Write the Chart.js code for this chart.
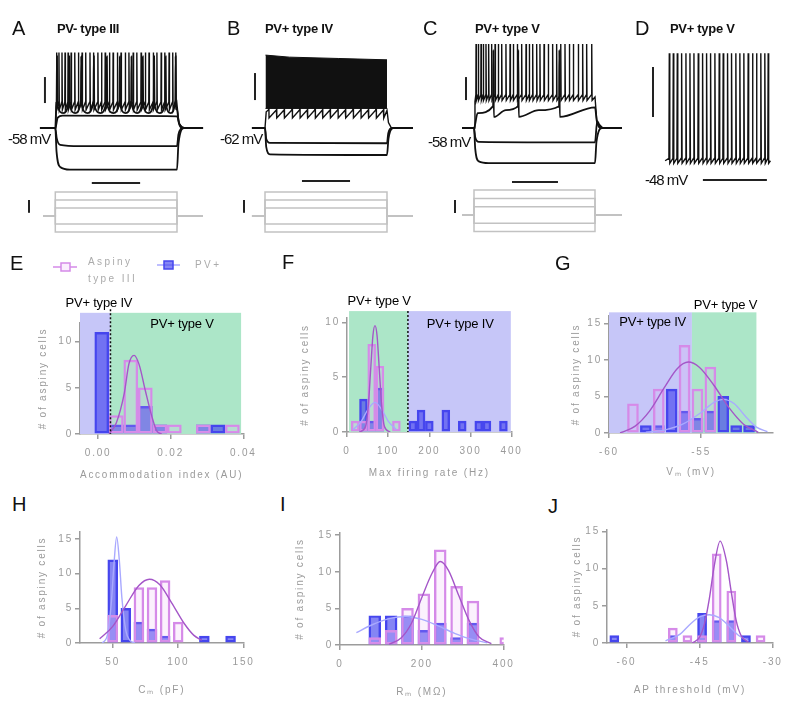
<!DOCTYPE html>
<html>
<head>
<meta charset="utf-8">
<title>Aspiny cell types</title>
<script src="https://cdn.jsdelivr.net/npm/chart.js@4.4.1/dist/chart.umd.min.js"></script>
<style>
  body { margin: 0; background: #fff; }
  #fig { position: relative; width: 800px; height: 717px; overflow: hidden; font-family: 'Liberation Sans', Arial, sans-serif; }
  #fig canvas { position: absolute; }
  .lbl { position: absolute; white-space: nowrap; line-height: 1; color: #111; }
</style>
</head>
<body>
<div id="fig"></div>
<script>
// ---- top row: step protocol + spike times (ms, mV, pA) ----
const stepSpan = [0, 1000];
const currentSteps = [300, 200, 100, -100, -200];

const spikesA3 = [10, 30, 55, 80, 105, 130, 160, 190, 220, 250, 285, 315, 350, 380, 410, 445, 475, 510, 540, 575, 605, 640, 670, 705, 740, 770, 805, 835, 870, 900, 935, 965, 990];
const spikesA2 = [14, 115, 213, 317, 424, 530, 626, 719, 812, 907, 989];
const depA1 = [[-126, -58], [0, -58], [20, -50], [60, -48.5], [1000, -49], [1020, -55], [1060, -58], [1214, -58]];
const hypA1 = [[-126, -58], [0, -58], [12, -66], [40, -71], [200, -72], [1000, -72], [1012, -63], [1050, -58], [1214, -58]];
const hypA2 = [[-126, -58], [0, -58], [10, -76], [40, -88], [120, -90], [1000, -90], [1012, -70], [1060, -58], [1214, -58]];

const spikesB2 = [30, 95, 158, 222, 285, 348, 410, 472, 535, 597, 660, 722, 785, 848, 910, 972];
const bandTopB = [[4, -8], [200, -9.5], [600, -10.5], [1000, -11.5]];
const bandBotB = [[4, -47.5], [1000, -47.5]];
const hypB1 = [[-107, -62], [0, -62], [10, -70], [40, -73], [1000, -73.3], [1010, -66], [1040, -62], [1213, -62]];
const hypB2 = [[-107, -62], [0, -62], [10, -76], [40, -81.5], [1000, -82], [1012, -70], [1050, -62], [1213, -62]];

const spikesC3 = [17, 36, 58, 77, 99, 121, 146, 174, 201, 229, 264, 298, 325, 358, 394, 430, 457, 485, 518, 545, 579, 614, 650, 683, 717, 752, 788, 821, 862, 898, 931, 973];
const spikesC2 = [160, 366, 705];
const hypC1 = [[-99, -58], [0, -58], [10, -66], [40, -70], [1000, -70.5], [1018, -52], [1035, -55], [1070, -58], [1223, -58]];
const hypC2 = [[-99, -58], [0, -58], [10, -76], [40, -87], [120, -88.5], [1000, -88.5], [1012, -70], [1060, -58], [1223, -58]];

const spikesD = [0, 12.5, 25, 38.5, 52, 64.5, 77, 90.5, 104, 116.5, 129, 142.5, 156, 168.5, 182, 194.5, 208, 220.5, 233, 246.5, 260, 272.5, 286, 298.5, 309];

// scale bars (data units of each panel)
const vBarA = [[-85, -38.8], [-85, -18.8]], tBarA = [[300, -100.3], [697, -100.3]], iBarA = [[-216, 40], [-216, 200]];
const vBarB = [[-82, -41.3], [-82, -21.3]], tBarB = [[303, -101.3], [697, -101.3]], iBarB = [[-172, 40], [-172, 200]];
const vBarC = [[-66, -33.7], [-66, -13.7]], tBarC = [[314, -105], [694, -105]], iBarC = [[-157, 24], [-157, 181]];
const vBarD = [[-51, -12], [-51, 28]], tBarD = [[105, -62.4], [305, -62.4]];

// ---- histograms: bin centres and cell counts ----
const binsE = [0.001, 0.005, 0.009, 0.013, 0.017, 0.021, 0.025, 0.029, 0.033, 0.037];
const aspinyE = [0, 2, 8, 5, 1, 1, 0, 1, 0, 1];
const pvE = [11, 1, 1, 3, 1, 0, 0, 1, 1, 0];
const fitAspinyEx = [0.0030, 0.0050, 0.0072, 0.0085, 0.0099, 0.0113, 0.0130, 0.0148, 0.0162, 0.0175];
const fitAspinyEy = [0, 1.2, 4.4, 7.6, 8.5, 7.5, 4.7, 1.9, 0.3, 0];

const binsF = [20, 40, 60, 80, 100, 120, 140, 160, 180, 200, 220, 240, 260, 280, 300, 320, 340, 360, 380];
const aspinyF = [1, 1, 8, 6, 0, 1, 0, 0, 0, 0, 0, 0, 0, 0, 0, 0, 0, 0, 0];
const pvF = [0, 3, 1, 4, 0, 0, 0, 1, 2, 1, 0, 2, 0, 1, 0, 1, 1, 0, 1];
const fitAspinyFx = [30, 45, 52, 58, 63, 68, 73, 78, 84, 91, 105];
const fitAspinyFy = [0, 0.5, 2.5, 6, 8.8, 9.7, 8.8, 6, 2.5, 0.5, 0];
const fitPvFx = [15, 35, 50, 68, 85, 100, 120];
const fitPvFy = [0.2, 1, 2, 2.7, 2, 1, 0.2];

const binsG = [-58.7, -58.0, -57.3, -56.6, -55.9, -55.2, -54.5, -53.8, -53.1, -52.4];
const aspinyG = [4, 0, 6, 0, 12, 6, 9, 0, 0, 0];
const pvG = [0, 1, 1, 6, 3, 2, 3, 5, 1, 1];
const fitAspinyGx = [-59.4, -58.6, -57.8, -57, -56.3, -55.7, -55.1, -54.3, -53.5, -52.7, -51.9];
const fitAspinyGy = [0, 0.9, 3, 6.2, 8.8, 9.7, 9, 6.5, 3.5, 1.2, 0.1];
const fitPvGx = [-58, -57, -56, -55, -54.3, -53.8, -53.2, -52.6, -52, -51.4];
const fitPvGy = [0.1, 0.4, 1.2, 2.8, 4.2, 4.6, 4, 2.3, 0.8, 0.2];

const binsH = [50, 60, 70, 80, 90, 100, 110, 120, 130, 140];
const aspinyH = [4, 0, 8, 8, 9, 3, 0, 0, 0, 0];
const pvH = [12, 5, 3, 2, 1, 0, 0, 1, 0, 1];
const fitAspinyHx = [40, 50, 60, 70, 78, 86, 95, 105, 112, 118];
const fitAspinyHy = [0.6, 2.4, 5.4, 8.3, 9.2, 8.4, 5.8, 2.7, 1.1, 0.4];
const fitPvHx = [42, 46, 49, 51, 53, 55, 57, 60, 63, 67];
const fitPvHy = [0, 1.2, 6, 11.5, 15.3, 12, 6.5, 1.8, 0.4, 0];

const binsI = [85, 125, 165, 205, 245, 285, 325, 365, 405];
const aspinyI = [1, 2, 5, 7, 13, 8, 6, 0, 1];
const pvI = [4, 4, 4, 2, 3, 1, 3, 0, 0];
const fitAspinyIx = [120, 150, 175, 200, 225, 245, 265, 290, 315, 340, 370];
const fitAspinyIy = [0.1, 1, 3, 6.5, 9.8, 11.4, 10.2, 6.8, 3.4, 1.1, 0.2];
const fitPvIx = [40, 80, 120, 160, 200, 240, 280, 320, 360];
const fitPvIy = [1.7, 2.8, 3.6, 3.9, 3.5, 2.6, 1.6, 0.8, 0.3];

const binsJ = [-62.5, -59.5, -56.5, -53.5, -50.5, -47.5, -44.5, -41.5, -38.5, -35.5, -32.5];
const aspinyJ = [0, 0, 0, 0, 2, 1, 1, 12, 7, 0, 1];
const pvJ = [1, 0, 0, 0, 1, 0, 4, 3, 3, 1, 0];
const fitAspinyJx = [-46.5, -45, -44, -43, -42, -40.8, -39.5, -38.5, -37.5, -36.5, -35];
const fitAspinyJy = [0, 0.8, 2.6, 6, 10.4, 13.7, 11, 6.8, 3, 1, 0.1];
const fitPvJx = [-52, -49, -47, -45, -43, -41, -39, -37, -35];
const fitPvJy = [0.3, 1.2, 2.5, 3.5, 3.8, 3.4, 2.3, 1, 0.3];

// tick values
const ticksXE = [0, 0.02, 0.04], ticksXF = [0, 100, 200, 300, 400], ticksXG = [-60, -55];
const ticksXH = [50, 100, 150], ticksXI = [0, 200, 400], ticksXJ = [-60, -45, -30];
const ticksY10 = [0, 5, 10], ticksY15 = [0, 5, 10, 15];
const legendLabels = [['Aspiny', 'type III'], ['PV+']];

// colours
const AXIS = '#9c9c9c', TICK = '#9a9a9a';
const PURPLE_BAR = '#d58ae8', PURPLE_FILL = 'rgba(232,180,245,0.18)', PURPLE_FIT = '#a456c8';
const BLUE_BAR = '#4646ee', BLUE_FILL = 'rgba(70,70,238,0.66)', BLUE_FIT = '#a9a9ff';
const SHADE_PV4 = '#c6c6f8', SHADE_PV5 = '#ace6c8';

Chart.defaults.font.family = "'Liberation Sans', Arial, sans-serif";
const fig = document.getElementById('fig');

function makeCanvas(left, top, w, h) {
  const cv = document.createElement('canvas');
  cv.width = w; cv.height = h;
  cv.style.left = left + 'px'; cv.style.top = top + 'px';
  cv.style.width = w + 'px'; cv.style.height = h + 'px';
  fig.appendChild(cv);
  return cv;
}

function txt(s, x, cy, size, extra) {
  const d = document.createElement('div');
  d.className = 'lbl';
  d.textContent = s;
  d.style.left = x + 'px';
  d.style.top = (cy - 0.49 * size) + 'px';
  d.style.fontSize = size + 'px';
  if (extra) Object.assign(d.style, extra);
  fig.appendChild(d);
}

// ---------- traces ----------
function ln(pts, extra) {
  return Object.assign({
    data: pts.map(p => ({x: p[0], y: p[1]})),
    borderColor: '#111', borderWidth: 1.4, pointRadius: 0, tension: 0, fill: false, yAxisID: 'y'
  }, extra || {});
}
function steps(levels, span, from, to) {
  return levels.map(l => ln([[from, 0], [span[0], 0], [span[0], l], [span[1], l], [span[1], 0], [to, 0]],
    {borderColor: '#c2c2c2', borderWidth: 1.5, yAxisID: 'yI'}));
}
function bar(pts, axis) { return ln(pts, {borderWidth: 2, borderColor: '#222', yAxisID: axis || 'y'}); }

// one spike = pre-threshold point, peak, after-hyperpolarisation
function spikeTrace(o) {
  const p = [[o.from, o.base]];
  if (o.on !== undefined) p.push([o.on, o.base], [o.on + o.onDur, o.onLevel]);
  o.spikes.forEach((t, i) => {
    p.push([t - o.rise, o.pre], [t, o.peak], [t + o.fall, o.after]);
    const nx = o.spikes[i + 1];
    if (o.dip !== undefined && nx !== undefined) p.push([(t + nx) / 2, o.dip]);
  });
  if (o.off !== undefined) p.push([o.off, o.end], [o.off + o.offDur, o.rebound], [o.off + 3 * o.offDur, o.base]);
  p.push([o.to, o.base]);
  return p;
}

function trace(box, tMap, vMap, iMap, sets) {
  const cv = makeCanvas(box.left, box.top, box.width, box.height);
  const xr = [tMap[1] - (tMap[0] - box.left) / tMap[2], tMap[1] + (box.left + box.width - tMap[0]) / tMap[2]];
  const yr = m => [m[1] - (box.top + box.height - m[0]) / m[2], m[1] + (m[0] - box.top) / m[2]];
  const scales = {
    x: {type: 'linear', display: false, min: xr[0], max: xr[1]},
    y: {type: 'linear', display: false, min: yr(vMap)[0], max: yr(vMap)[1]}
  };
  if (iMap) scales.yI = {type: 'linear', display: false, min: yr(iMap)[0], max: yr(iMap)[1]};
  new Chart(cv, {
    type: 'line',
    data: {datasets: sets},
    options: {
      responsive: false, animation: false, devicePixelRatio: 1,
      layout: {padding: 0},
      plugins: {legend: {display: false}, tooltip: {enabled: false}},
      scales
    }
  });
}

const mono = {cubicInterpolationMode: 'monotone', borderWidth: 1.8};

// A
trace({left: 0, top: 38, width: 215, height: 202}, [55.3, 0, 0.1217], [128, -58, 1.3], [216, 0, 0.08], [
  ln(spikeTrace({from: -126, on: 0, base: -58, onDur: 5, onLevel: -42, spikes: spikesA3, rise: 2, fall: 3,
    pre: -38, peak: 0, after: -44, off: 1000, end: -40, offDur: 15, rebound: -54, to: 1214})),
  ln(spikeTrace({from: -126, on: 0, base: -58, onDur: 6, onLevel: -46, spikes: spikesA2, rise: 3, fall: 3,
    pre: -37, peak: -3, after: -40, dip: -46.5, off: 1000, end: -44, offDur: 15, rebound: -54, to: 1214}), mono),
  ln(depA1, mono), ln(hypA1, mono), ln(hypA2, mono),
  ...steps(currentSteps, stepSpan, -100, 1214),
  bar(vBarA), bar(tBarA), bar(iBarA, 'yI')
]);

// B
trace({left: 215, top: 38, width: 200, height: 202}, [265, 0, 0.122], [128, -62, 1.35], [216, 0, 0.08], [
  ln(bandTopB, {fill: '+1', backgroundColor: '#111', borderWidth: 1}),
  ln(bandBotB, {borderWidth: 1}),
  ln(spikeTrace({from: -107, on: 0, base: -62, onDur: 10, onLevel: -50, spikes: spikesB2, rise: 2, fall: 3,
    pre: -48.7, peak: -20, after: -54.6, off: 1000, end: -49, offDur: 12, rebound: -58, to: 1213})),
  ln(hypB1, mono), ln(hypB2, mono),
  ...steps(currentSteps, stepSpan, -107, 1213),
  bar(vBarB), bar(tBarB), bar(iBarB, 'yI')
]);

// C
trace({left: 415, top: 38, width: 215, height: 202}, [474, 0, 0.121], [128, -58, 1.15], [215, 0, 0.083], [
  ln(spikeTrace({from: -99, on: 0, base: -58, onDur: 8, onLevel: -35, spikes: spikesC3, rise: 1.5, fall: 3,
    pre: -29, peak: 15, after: -34, off: 1000, end: -31, offDur: 15, rebound: -52, to: 1223})),
  ln(spikeTrace({from: -99, on: 0, base: -58, onDur: 30, onLevel: -45, spikes: spikesC2, rise: 2, fall: 4,
    pre: -39, peak: 10, after: -48.4, dip: -42.5, off: 1000, end: -40, offDur: 15, rebound: -52, to: 1223}), mono),
  ln(hypC1, mono), ln(hypC2, mono),
  ...steps(currentSteps, stepSpan, -99, 1223),
  bar(vBarC), bar(tBarC), bar(iBarC, 'yI')
]);

// D
trace({left: 630, top: 38, width: 170, height: 160}, [669.3, 0, 0.32], [162, -48, 1.25], null, [
  ln(spikeTrace({from: -13, base: -47, spikes: spikesD, rise: 1.2, fall: 1.5, pre: -45, peak: 39, after: -49, to: 316})),
  bar(vBarD), bar(tBarD)
]);

// ---------- histograms ----------
function xy(xs, ys) { return xs.map((x, i) => ({x, y: ys[i]})); }
function binPts(bins, counts) { return bins.map((x, i) => ({x, y: counts[i]})).filter(p => p.y > 0); }

function drawLegendE(ctx, ox, oy) {
  ctx.lineWidth = 1.5;
  ctx.strokeStyle = PURPLE_BAR;
  ctx.beginPath(); ctx.moveTo(53 - ox, 267 - oy); ctx.lineTo(77 - ox, 267 - oy); ctx.stroke();
  ctx.fillStyle = '#fbeefe';
  ctx.fillRect(61 - ox, 263 - oy, 9, 8); ctx.strokeRect(61 - ox, 263 - oy, 9, 8);
  ctx.strokeStyle = BLUE_FIT;
  ctx.beginPath(); ctx.moveTo(157 - ox, 265 - oy); ctx.lineTo(180 - ox, 265 - oy); ctx.stroke();
  ctx.fillStyle = BLUE_FILL; ctx.strokeStyle = BLUE_BAR;
  ctx.fillRect(164 - ox, 261 - oy, 9, 8); ctx.strokeRect(164 - ox, 261 - oy, 9, 8);
  ctx.fillStyle = '#ababab';
  ctx.font = "10px 'Liberation Sans', Arial, sans-serif";
  ctx.letterSpacing = '2.4px';
  ctx.textAlign = 'left'; ctx.textBaseline = 'middle';
  ctx.fillText(legendLabels[0][0], 88 - ox, 262 - oy);
  ctx.fillText(legendLabels[0][1], 88 - ox, 279 - oy);
  ctx.fillText(legendLabels[1][0], 195 - ox, 265 - oy);
}

function hist(cfg) {
  const [L, R, B, T] = cfg.area;
  const YW = 60, XH = 56;
  const left = L - YW, top = T - cfg.padTop;
  const W = R - L + YW + cfg.padRight, H = B - T + cfg.padTop + XH;
  const cv = makeCanvas(left, top, W, H);
  const bw = cfg.binWidth * (R - L) / (cfg.x[1] - cfg.x[0]) * cfg.barFrac;

  const deco = {
    id: 'deco',
    beforeDraw(c) { c.ctx.letterSpacing = '1.8px'; },
    beforeDatasetsDraw(c) {
      const {ctx, chartArea: a, scales: {x, y}} = c;
      ctx.save();
      (cfg.regions || []).forEach(r => {
        const x0 = x.getPixelForValue(r.from), x1 = x.getPixelForValue(r.to);
        const yt = y.getPixelForValue(cfg.shadeTop);
        ctx.fillStyle = r.color;
        ctx.fillRect(x0, yt, x1 - x0, a.bottom - yt);
      });
      ctx.restore();
    },
    afterDatasetsDraw(c) {
      const {ctx, chartArea: a, scales: {x, y}} = c;
      ctx.save();
      (cfg.dividers || []).forEach(d => {
        const px = x.getPixelForValue(d.x);
        ctx.strokeStyle = '#111'; ctx.lineWidth = 1.5; ctx.setLineDash([2, 2]);
        ctx.beginPath(); ctx.moveTo(px, y.getPixelForValue(d.top)); ctx.lineTo(px, a.bottom); ctx.stroke();
      });
      ctx.restore();
    },
    afterDraw(c) {
      const {ctx, scales: {x, y}} = c;
      ctx.save();
      ctx.letterSpacing = '-0.2px';
      ctx.fillStyle = '#000';
      ctx.font = "13px 'Liberation Sans', Arial, sans-serif";
      ctx.textAlign = 'center'; ctx.textBaseline = 'middle';
      (cfg.labels || []).forEach(l => ctx.fillText(l.text, x.getPixelForValue(l.x), y.getPixelForValue(l.y)));
      if (cfg.legend) cfg.legend(ctx, left, top);
      ctx.restore();
      ctx.letterSpacing = '0px';
    }
  };

  const datasets = [
    {type: 'bar', data: binPts(cfg.bins, cfg.pv), backgroundColor: BLUE_FILL, borderColor: BLUE_BAR,
      borderWidth: 1.8, borderSkipped: false, barThickness: bw, grouped: false, order: 3},
    {type: 'bar', data: binPts(cfg.bins, cfg.aspiny), backgroundColor: PURPLE_FILL, borderColor: PURPLE_BAR,
      borderWidth: 1.8, borderSkipped: false, barThickness: bw, grouped: false, order: 2},
    {type: 'line', data: cfg.fitA, borderColor: PURPLE_FIT, borderWidth: 1.4, pointRadius: 0,
      cubicInterpolationMode: 'monotone', fill: false, order: 1}
  ];
  if (cfg.fitP) datasets.push({type: 'line', data: cfg.fitP, borderColor: BLUE_FIT, borderWidth: 1.4,
    pointRadius: 0, cubicInterpolationMode: 'monotone', fill: false, order: 1});

  new Chart(cv, {
    type: 'bar',
    data: {datasets},
    plugins: [deco],
    options: {
      responsive: false, animation: false, devicePixelRatio: 1,
      layout: {padding: {top: cfg.padTop, right: cfg.padRight, left: 0, bottom: 0}},
      plugins: {legend: {display: false}, tooltip: {enabled: false}},
      scales: {
        x: {
          type: 'linear', min: cfg.x[0], max: cfg.x[1], offset: false,
          afterBuildTicks: s => { s.ticks = cfg.xticks.map(v => ({value: v})); },
          afterFit: s => { s.height = XH; },
          grid: {drawOnChartArea: false, drawTicks: true, tickLength: 5, color: AXIS, lineWidth: 1.5, offset: false},
          border: {display: true, color: AXIS, width: 1.5},
          ticks: {color: TICK, font: {size: 10}, padding: 8, maxRotation: 0, autoSkip: false,
            callback: cfg.xfmt || (v => String(v))},
          title: {display: true, text: cfg.xtitle, color: TICK, font: {size: 10},
            padding: {top: 0, bottom: cfg.xTitlePad}}
        },
        y: {
          type: 'linear', min: cfg.y[0], max: cfg.y[1],
          afterBuildTicks: s => { s.ticks = cfg.yticks.map(v => ({value: v})); },
          afterFit: s => { s.width = YW; },
          grid: {drawOnChartArea: false, drawTicks: true, tickLength: 5, color: AXIS, lineWidth: 1.5},
          border: {display: true, color: AXIS, width: 1.5},
          ticks: {color: TICK, font: {size: 10}, padding: 2, callback: v => String(v)},
          title: {display: true, text: '# of aspiny cells', color: TICK, font: {size: 10},
            padding: {top: cfg.yTitlePad, bottom: 0}}
        }
      }
    }
  });
}

hist({
  area: [80, 246, 434, 323], x: [-0.005, 0.04], y: [0, 12], padTop: 71, padRight: 15,
  bins: binsE, aspiny: aspinyE, pv: pvE, binWidth: 0.004, barFrac: 0.95,
  fitA: xy(fitAspinyEx, fitAspinyEy), fitP: null,
  xticks: ticksXE, yticks: ticksY10, xfmt: v => v.toFixed(2),
  xtitle: 'Accommodation index (AU)', xTitlePad: 9, yTitlePad: 17,
  shadeTop: 13.1,
  regions: [{from: -0.005, to: 0.0034, color: SHADE_PV4}, {from: 0.0034, to: 0.0394, color: SHADE_PV5}],
  dividers: [{x: 0.0034, top: 13.5}],
  labels: [{text: 'PV+ type IV', x: 0.0002, y: 14.15}, {text: 'PV+ type V', x: 0.0231, y: 11.9}],
  legend: drawLegendE
});

hist({
  area: [347, 513, 432, 318], x: [0, 400], y: [0, 10.4], padTop: 26, padRight: 15,
  bins: binsF, aspiny: aspinyF, pv: pvF, binWidth: 20, barFrac: 0.95,
  fitA: xy(fitAspinyFx, fitAspinyFy), fitP: xy(fitPvFx, fitPvFy),
  xticks: ticksXF, yticks: ticksY10,
  xtitle: 'Max firing rate (Hz)', xTitlePad: 9, yTitlePad: 12,
  shadeTop: 11.03,
  regions: [{from: 5, to: 148, color: SHADE_PV5}, {from: 148, to: 398, color: SHADE_PV4}],
  dividers: [{x: 148, top: 11.03}],
  labels: [{text: 'PV+ type V', x: 78, y: 11.9}, {text: 'PV+ type IV', x: 275, y: 9.85}]
});

hist({
  area: [609, 773, 433, 316], x: [-60, -51.1], y: [0, 16], padTop: 21, padRight: 15,
  bins: binsG, aspiny: aspinyG, pv: pvG, binWidth: 0.7, barFrac: 0.85,
  fitA: xy(fitAspinyGx, fitAspinyGy), fitP: xy(fitPvGx, fitPvGy),
  xticks: ticksXG, yticks: ticksY15,
  xtitle: 'V\u2098 (mV)', xTitlePad: 11, yTitlePad: 21,
  shadeTop: 16.5,
  regions: [{from: -60, to: -55.5, color: SHADE_PV4}, {from: -55.5, to: -52.0, color: SHADE_PV5}],
  labels: [{text: 'PV+ type IV', x: -57.63, y: 15.1}, {text: 'PV+ type V', x: -53.68, y: 17.5}]
});

hist({
  area: [80, 245, 643, 532], x: [25, 150], y: [0, 16], padTop: 10, padRight: 15,
  bins: binsH, aspiny: aspinyH, pv: pvH, binWidth: 10, barFrac: 0.75,
  fitA: xy(fitAspinyHx, fitAspinyHy), fitP: xy(fitPvHx, fitPvHy),
  xticks: ticksXH, yticks: ticksY15,
  xtitle: 'C\u2098 (pF)', xTitlePad: 3, yTitlePad: 16
});

hist({
  area: [340, 505, 645, 533], x: [0, 400], y: [0, 15.3], padTop: 10, padRight: 15,
  bins: binsI, aspiny: aspinyI, pv: pvI, binWidth: 40, barFrac: 0.72,
  fitA: xy(fitAspinyIx, fitAspinyIy), fitP: xy(fitPvIx, fitPvIy),
  xticks: ticksXI, yticks: ticksY15,
  xtitle: 'R\u2098 (M\u03A9)', xTitlePad: 3, yTitlePad: 14
});

hist({
  area: [607, 773, 643, 530], x: [-64, -30], y: [0, 15.2], padTop: 10, padRight: 15,
  bins: binsJ, aspiny: aspinyJ, pv: pvJ, binWidth: 3, barFrac: 0.62,
  fitA: xy(fitAspinyJx, fitAspinyJy), fitP: xy(fitPvJx, fitPvJy),
  xticks: ticksXJ, yticks: ticksY15,
  xtitle: 'AP threshold (mV)', xTitlePad: 3, yTitlePad: 24
});

// ---------- text ----------
[['A', 12, 28], ['B', 227, 28], ['C', 423, 28], ['D', 635, 28],
 ['E', 10, 263], ['F', 282, 262], ['G', 555, 263],
 ['H', 12, 504], ['I', 280, 504], ['J', 548, 506]].forEach(l => txt(l[0], l[1], l[2], 20));
[['PV- type III', 57, 28], ['PV+ type IV', 265, 28], ['PV+ type V', 475, 28], ['PV+ type V', 670, 28]]
  .forEach(l => txt(l[0], l[1], l[2], 13, {letterSpacing: '-0.3px', fontWeight: '600'}));
[['-58 mV', 8, 138], ['-62 mV', 220, 138], ['-58 mV', 428, 141], ['-48 mV', 645, 179]]
  .forEach(l => txt(l[0], l[1], l[2], 15, {letterSpacing: '-1px'}));
</script>
</body>
</html>
